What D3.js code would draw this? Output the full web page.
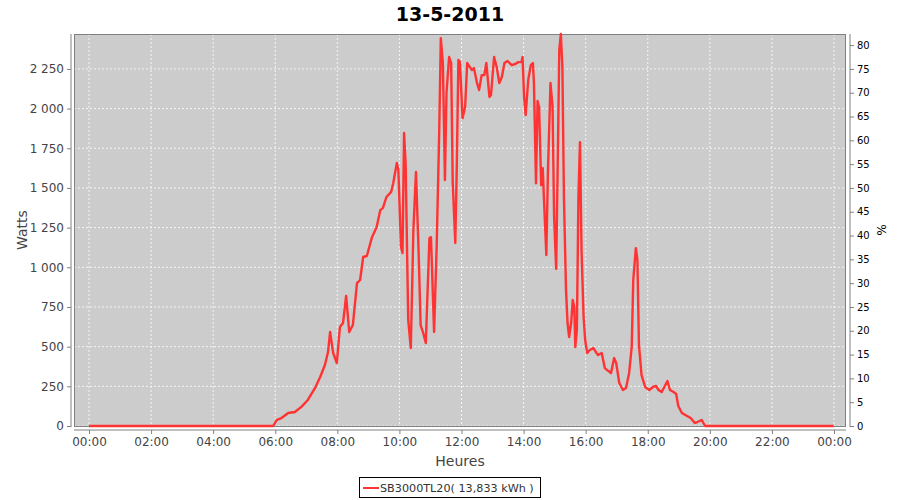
<!DOCTYPE html>
<html>
<head>
<meta charset="utf-8">
<script src="https://cdn.jsdelivr.net/npm/d3@7"></script>
<style>
  html, body { margin: 0; padding: 0; background: #ffffff; }
  svg { display: block; }
</style>
</head>
<body>
<svg id="chart" width="900" height="500"></svg>
<script>
// ---- data ----
const chartTitle = "13-5-2011";
const seriesName = "SB3000TL20( 13,833 kWh )";
const times = ["00:00","05:50","05:56","06:03","06:12","06:25","06:38","06:51","07:03","07:17","07:27","07:36","07:42","07:46","07:52","07:59","08:05","08:11","08:17","08:23","08:30","08:38","08:44","08:50","08:57","09:07","09:16","09:23","09:28","09:35","09:44","09:48","09:55","09:58","10:03","10:06","10:09","10:12","10:17","10:22","10:27","10:32","10:37","10:41","10:46","10:51","10:58","11:01","11:07","11:12","11:17","11:20","11:24","11:28","11:31","11:36","11:40","11:43","11:48","11:51","11:54","11:57","12:02","12:07","12:11","12:20","12:24","12:30","12:34","12:39","12:44","12:48","12:54","12:57","13:03","13:08","13:13","13:18","13:23","13:29","13:37","13:44","13:50","13:56","13:58","14:01","14:04","14:09","14:14","14:18","14:20","14:24","14:27","14:30","14:34","14:37","14:40","14:44","14:47","14:52","14:56","14:59","15:03","15:06","15:09","15:12","15:15","15:18","15:22","15:25","15:28","15:32","15:35","15:38","15:40","15:43","15:46","15:49","15:52","15:56","15:59","16:03","16:08","16:15","16:21","16:24","16:31","16:37","16:44","16:49","16:55","16:59","17:05","17:12","17:18","17:24","17:29","17:32","17:37","17:40","17:43","17:48","17:55","18:03","18:10","18:16","18:21","18:27","18:32","18:38","18:43","18:50","18:55","18:59","19:06","19:16","19:23","19:31","19:36","19:44","19:51","23:59"];
const watts = [0,0,0,38,50,82,88,122,164,240,310,384,466,592,460,397,624,649,820,592,636,900,920,1065,1071,1190,1254,1360,1373,1443,1475,1530,1657,1613,1128,1090,1846,1657,668,491,1235,1600,1109,636,586,523,1184,1190,592,1128,1865,2444,2287,1550,2098,2325,2287,1537,1153,1657,2306,2293,1940,2010,2287,2243,2255,2161,2117,2211,2211,2287,2073,2085,2325,2262,2161,2199,2287,2300,2274,2281,2293,2293,2325,2073,1959,2180,2274,2287,2161,1530,2048,2010,1518,1625,1380,1077,1594,2161,2010,1317,990,1657,2369,2470,2262,1443,857,649,561,649,794,750,498,605,1443,1789,1109,687,542,460,479,491,460,447,460,365,346,334,428,397,271,227,239,334,498,920,1121,1046,510,321,246,227,246,252,227,214,246,283,227,214,202,126,82,63,50,19,25,38,0,0];
const xTickLabels = ["00:00","02:00","04:00","06:00","08:00","10:00","12:00","14:00","16:00","18:00","20:00","22:00","00:00"];
const leftTicks = [0,250,500,750,1000,1250,1500,1750,2000,2250];
const rightTicks = [0,5,10,15,20,25,30,35,40,45,50,55,60,65,70,75,80];
const wattsMax = 2470;
const nominalPower = 3000;   // % axis = W / 3000 * 100

// ---- layout ----
const svg = d3.select("#chart");
const plot = {left: 74, right: 846, top: 34, bottom: 427};
const toMin = s => { const [h, m] = s.split(":").map(Number); return h * 60 + m; };
const data = times.map((t, i) => ({t: toMin(t), w: watts[i]}));

const x = d3.scaleLinear().domain([0, 1440]).range([89, 834]);
const y = d3.scaleLinear().domain([0, wattsMax]).range([426, 34]);
const yR = d3.scaleLinear().domain([0, wattsMax / nominalPower * 100]).range([426, 34]);

const fr = d3.formatLocale({decimal: ",", thousands: "\u00a0", grouping: [3], currency: ["", ""]});
const fmt = fr.format(",d");

const font = "'DejaVu Sans', sans-serif";

// title
svg.append("text").attr("x", 450).attr("y", 21).attr("text-anchor", "middle")
  .attr("font-family", font).attr("font-weight", "bold").attr("font-size", 19)
  .attr("fill", "#000").text(chartTitle);

// plot background
svg.append("rect").attr("x", plot.left).attr("y", plot.top)
  .attr("width", plot.right - plot.left).attr("height", plot.bottom - plot.top)
  .attr("fill", "#cccccc");

// gridlines
const grid = svg.append("g").attr("stroke", "#ffffff").attr("stroke-width", 0.8)
  .attr("stroke-dasharray", "2,2");
grid.selectAll("line.v").data(d3.range(0, 1441, 120)).join("line")
  .attr("x1", d => x(d)).attr("x2", d => x(d)).attr("y1", plot.top).attr("y2", plot.bottom);
grid.selectAll("line.h").data(leftTicks).join("line")
  .attr("x1", plot.left).attr("x2", plot.right).attr("y1", d => y(d)).attr("y2", d => y(d));

// outline
svg.append("rect").attr("x", plot.left + 0.5).attr("y", plot.top + 0.5)
  .attr("width", plot.right - plot.left - 1).attr("height", plot.bottom - plot.top - 1)
  .attr("fill", "none").attr("stroke", "#808080").attr("stroke-width", 1);

// line
svg.append("path").datum(data)
  .attr("fill", "none").attr("stroke", "#ff3333").attr("stroke-width", 2.4)
  .attr("stroke-linejoin", "round")
  .attr("d", d3.line().x(d => x(d.t)).y(d => y(d.w)));

// left axis
const gL = svg.append("g").attr("transform", "translate(71,0)")
  .call(d3.axisLeft(y).tickValues(leftTicks).tickFormat(fmt).tickSize(4).tickPadding(3));
gL.select(".domain").attr("d", `M0,${plot.top}V${plot.bottom}`).attr("stroke", "#808080");
gL.selectAll(".tick line").attr("stroke", "#808080");
gL.selectAll("text").attr("font-family", font).attr("font-size", 12).attr("fill", "#444");

// right axis
const gR = svg.append("g").attr("transform", "translate(850,0)")
  .call(d3.axisRight(yR).tickValues(rightTicks).tickSize(4).tickPadding(3));
gR.select(".domain").attr("d", `M0,${plot.top}V${plot.bottom}`).attr("stroke", "#808080");
gR.selectAll(".tick line").attr("stroke", "#808080");
gR.selectAll("text").attr("font-family", font).attr("font-size", 10).attr("fill", "#000");

// bottom axis
const gB = svg.append("g").attr("transform", "translate(0,430)")
  .call(d3.axisBottom(x).tickValues(d3.range(0, 1441, 120)).tickFormat((d, i) => xTickLabels[i]).tickSize(4).tickPadding(3));
gB.select(".domain").attr("d", `M${plot.left},0H${plot.right}`).attr("stroke", "#808080");
gB.selectAll(".tick line").attr("stroke", "#808080");
gB.selectAll("text").attr("font-family", font).attr("font-size", 12).attr("fill", "#444");

// axis titles
svg.append("text").attr("transform", "translate(27,230) rotate(-90)").attr("text-anchor", "middle")
  .attr("font-family", font).attr("font-size", 14).attr("fill", "#444").text("Watts");
svg.append("text").attr("transform", "translate(877,230) rotate(90)").attr("text-anchor", "middle")
  .attr("font-family", font).attr("font-size", 12).attr("fill", "#000").text("%");
svg.append("text").attr("x", 460).attr("y", 466).attr("text-anchor", "middle")
  .attr("font-family", font).attr("font-size", 14).attr("fill", "#444").text("Heures");

// legend
const lg = svg.append("g");
lg.append("rect").attr("x", 359.5).attr("y", 477.5).attr("width", 181).attr("height", 20)
  .attr("fill", "#fff").attr("stroke", "#000").attr("stroke-width", 1);
lg.append("line").attr("x1", 363).attr("x2", 379).attr("y1", 488).attr("y2", 488)
  .attr("stroke", "#ff3333").attr("stroke-width", 2);
lg.append("text").attr("x", 380).attr("y", 492).attr("font-family", font).attr("font-size", 11.2)
  .attr("fill", "#333").text(seriesName);
</script>
</body>
</html>
